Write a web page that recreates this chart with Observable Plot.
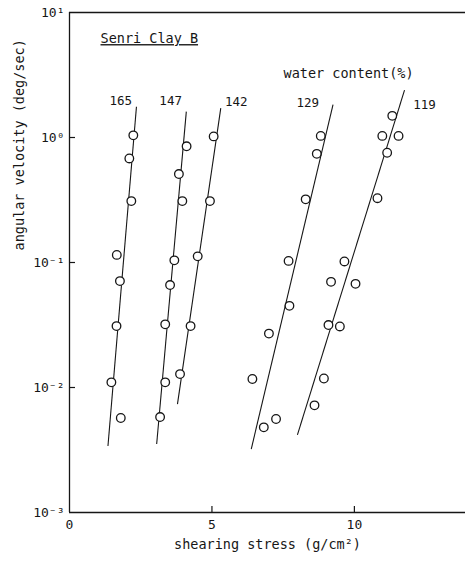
<!DOCTYPE html>
<html>
<head>
<meta charset="utf-8">
<script src="https://cdn.jsdelivr.net/npm/d3@7"></script>
<script src="https://cdn.jsdelivr.net/npm/@observablehq/plot@0.6"></script>
<style>
  body { margin: 0; background: #fff; }
  #chart svg { display: block; }
</style>
</head>
<body>
<div id="chart"></div>
<script>
// Water content (%) of each sample series
const waterContent = ["165", "147", "142", "129", "119"];

// Measured points: shearing stress (g/cm²) and angular velocity (deg/sec)
const stress165 = [2.24, 2.10, 2.17, 1.66, 1.77, 1.65, 1.47, 1.80];
const velocity165 = [1.04, 0.68, 0.31, 0.115, 0.071, 0.031, 0.011, 0.0057];
const stress147 = [4.11, 3.84, 3.96, 3.68, 3.53, 3.36, 3.36, 3.18];
const velocity147 = [0.85, 0.51, 0.31, 0.104, 0.066, 0.032, 0.011, 0.0058];
const stress142 = [5.06, 4.93, 4.50, 4.25, 3.88];
const velocity142 = [1.02, 0.31, 0.112, 0.031, 0.0128];
const stress129 = [8.82, 8.68, 8.29, 7.69, 7.72, 7.00, 6.42, 7.25, 6.82];
const velocity129 = [1.03, 0.74, 0.32, 0.103, 0.045, 0.027, 0.0117, 0.0056, 0.0048];
const stress119 = [11.33, 10.98, 11.55, 11.15, 10.81, 9.65, 9.18, 10.04, 9.09, 9.49, 8.93, 8.60];
const velocity119 = [1.49, 1.03, 1.03, 0.755, 0.327, 0.102, 0.070, 0.0675, 0.0316, 0.0308, 0.0118, 0.0072];

// Fitted straight lines (lower end → upper end), one per series
const fitStressLow = [1.35, 3.06, 3.79, 6.38, 8.00];
const fitVelocityLow = [0.0034, 0.00353, 0.00737, 0.00322, 0.00418];
const fitStressHigh = [2.35, 4.10, 5.31, 9.25, 11.76];
const fitVelocityHigh = [1.76, 1.61, 1.72, 1.83, 2.39];

// Series label anchors (data coordinates)
const labelStress = [1.80, 3.55, 5.85, 8.36, 12.46];
const labelVelocity = [1.97, 1.97, 1.93, 1.90, 1.83];

// Axis ticks
const xTicks = [0, 5, 10];
const yTicks = [1e-3, 1e-2, 1e-1, 1, 10];

const stressBySeries = [stress165, stress147, stress142, stress129, stress119];
const velocityBySeries = [velocity165, velocity147, velocity142, velocity129, velocity119];

const points = waterContent.flatMap((w, i) =>
  stressBySeries[i].map((s, j) => ({series: w, stress: s, velocity: velocityBySeries[i][j]}))
);
const fits = waterContent.map((w, i) => ({
  series: w,
  x1: fitStressLow[i], y1: fitVelocityLow[i],
  x2: fitStressHigh[i], y2: fitVelocityHigh[i]
}));
const labels = waterContent.map((w, i) => ({series: w, x: labelStress[i], y: labelVelocity[i]}));

const supDigits = {"-": "⁻", "0": "⁰", "1": "¹", "2": "²", "3": "³"};
const powerFormat = d => "10" + String(Math.round(Math.log10(d))).split("").map(c => supDigits[c]).join("");

const ink = "#161616";
const font = "DejaVu Sans Mono";
const width = 465, height = 564;
const margin = {top: 12, right: 0, bottom: 52, left: 69};
const innerW = width - margin.left - margin.right;
const innerH = height - margin.top - margin.bottom;
const tickLen = 6;

const chart = Plot.plot({
  width, height,
  marginTop: margin.top,
  marginBottom: margin.bottom,
  marginLeft: margin.left,
  marginRight: margin.right,
  style: {fontFamily: font, fontSize: "12px", color: ink, background: "#fff"},
  x: {domain: [0, 13.9]},
  y: {type: "log", domain: [1e-3, 10]},
  marks: [
    // frame: top, bottom and left edges
    Plot.ruleY([10], {stroke: ink, strokeWidth: 1.6}),
    Plot.ruleY([1e-3], {stroke: ink, strokeWidth: 1.3}),
    Plot.ruleX([0], {stroke: ink, strokeWidth: 1.3}),
    // inward tick marks
    Plot.tickX(xTicks.slice(1), {x: d => d, insetTop: innerH - tickLen, stroke: ink, strokeWidth: 1.2}),
    Plot.tickY(yTicks.slice(1, -1), {y: d => d, insetRight: innerW - tickLen, stroke: ink, strokeWidth: 1.2}),
    Plot.axisX({ticks: xTicks, tickSize: 0, tickPadding: 7, label: null, fontSize: 13}),
    Plot.axisY({ticks: yTicks, tickSize: 0, tickPadding: 5, tickFormat: powerFormat, label: null, fontSize: 13}),
    Plot.link(fits, {x1: "x1", y1: "y1", x2: "x2", y2: "y2", stroke: ink, strokeWidth: 1.1}),
    Plot.dot(points, {x: "stress", y: "velocity", r: 4.3, stroke: ink, fill: "white", strokeWidth: 1.3}),
    Plot.text(labels, {x: "x", y: "y", text: "series", fontSize: 12.5, fill: ink}),
    Plot.text(["Senri Clay B"], {frameAnchor: "top-left", dx: 31, dy: 21, textAnchor: "start", fontSize: 13.5, fill: ink}),
    Plot.text(["water content(%)"], {frameAnchor: "top-left", dx: 214, dy: 56, textAnchor: "start", fontSize: 13.5, fill: ink}),
    Plot.text(["angular velocity (deg/sec)"], {frameAnchor: "left", rotate: -90, dx: -50, dy: -12, fontSize: 13.5, fill: ink}),
    Plot.text(["shearing stress (g/cm²)"], {frameAnchor: "bottom", dy: 36, fontSize: 13.5, fill: ink})
  ]
});

d3.select(chart).selectAll("text")
  .filter(function () { return this.textContent === "Senri Clay B"; })
  .attr("text-decoration", "underline");

document.getElementById("chart").append(chart);
</script>
</body>
</html>
